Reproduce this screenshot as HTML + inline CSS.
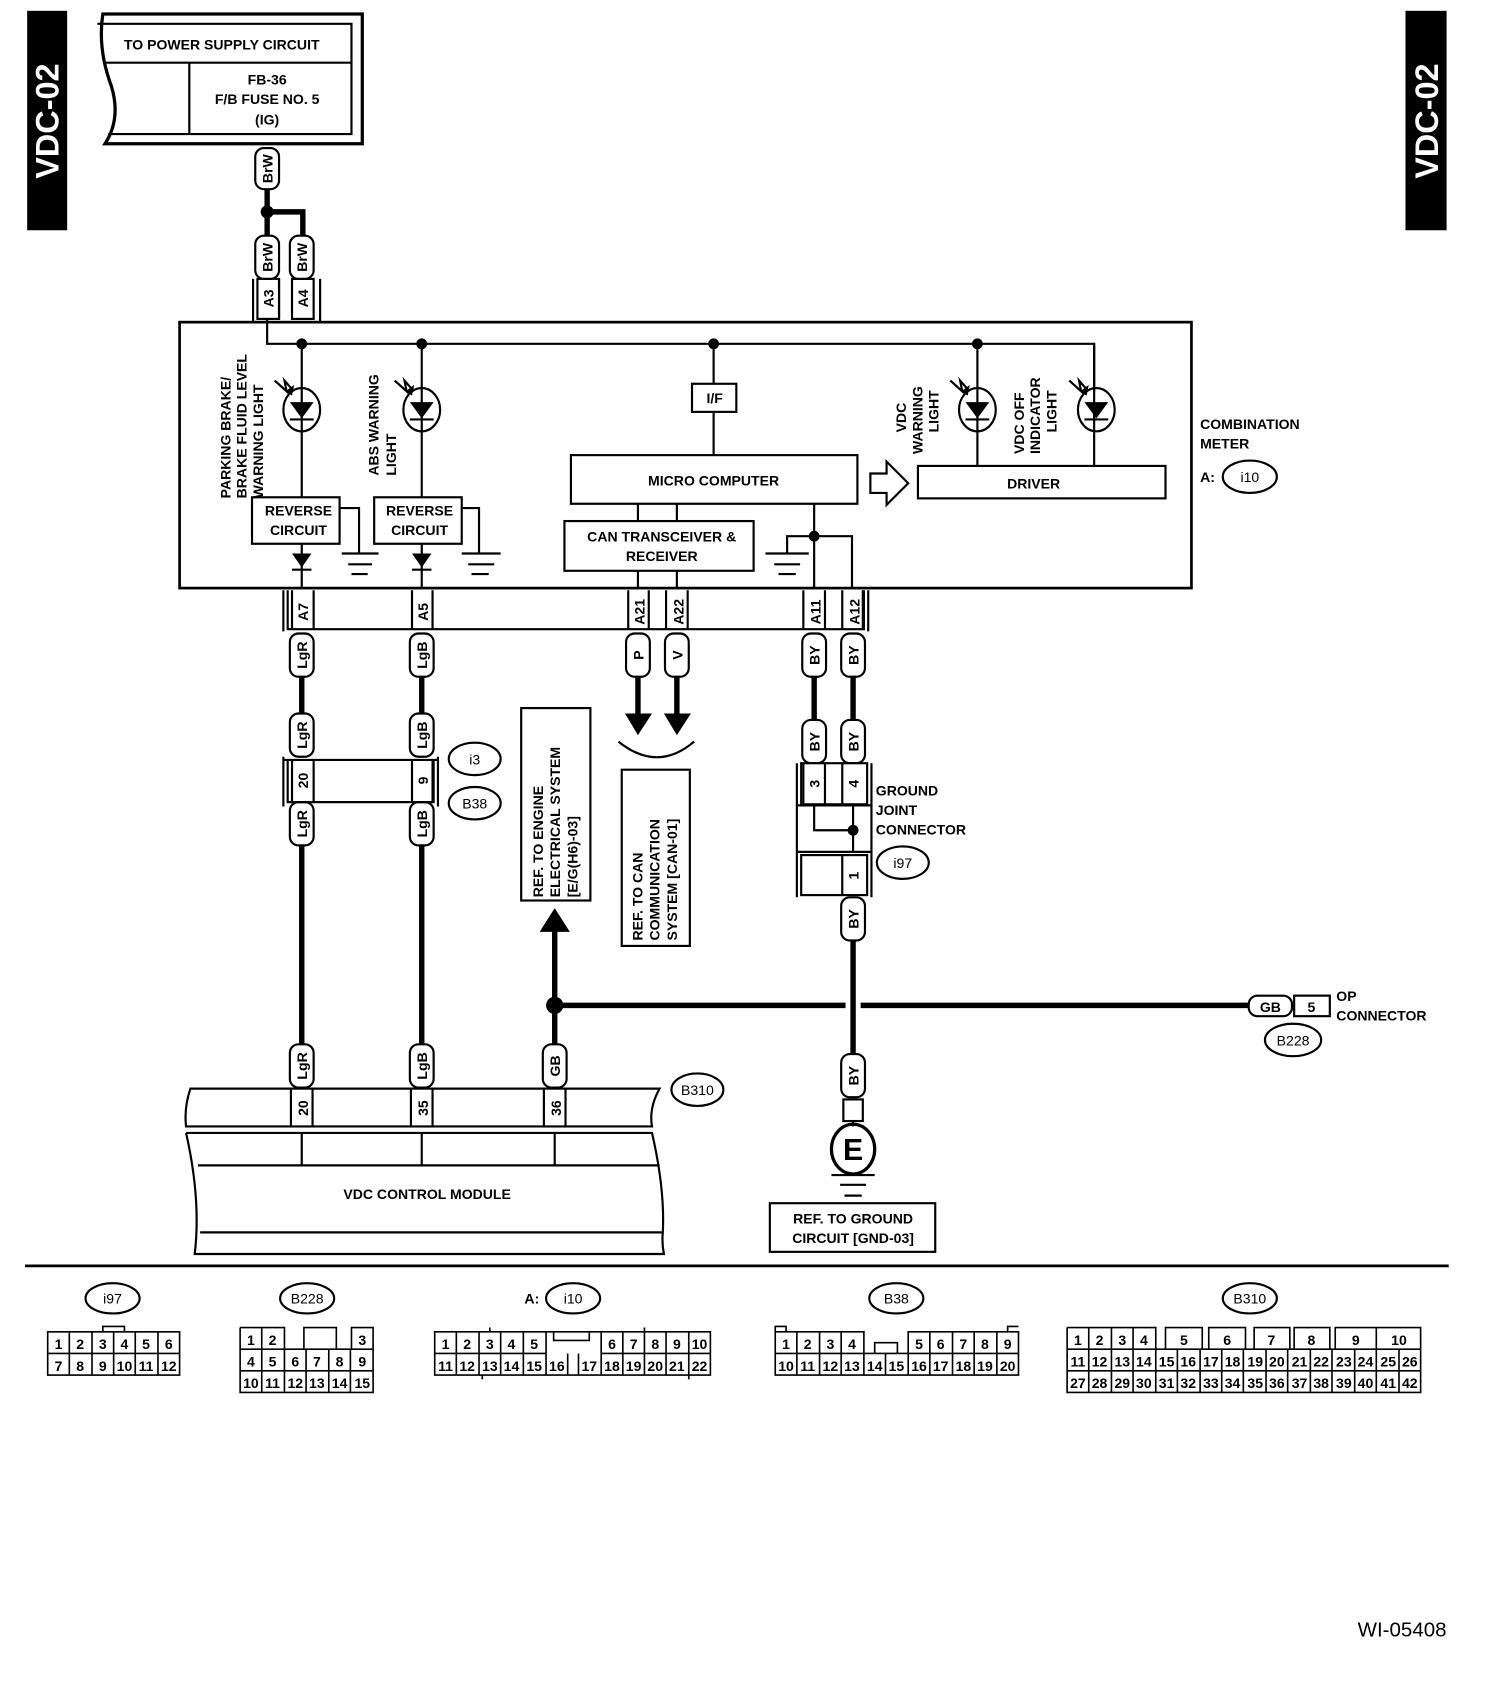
<!DOCTYPE html>
<html><head><meta charset="utf-8"><style>
html,body{margin:0;padding:0;background:#fff;}
svg{display:block;}
text{font-family:"Liberation Sans",Arial,sans-serif;font-weight:bold;fill:#000;}
.s{font-size:14px;}
.m{font-size:13px;}
.n{font-size:13px;font-weight:normal;}
.f{fill:none;stroke:#000;stroke-width:2;}
.w{fill:none;stroke:#000;stroke-width:5;}
.p{fill:#fff;stroke:#000;stroke-width:2;}
</style></head><body>
<svg width="1504" height="1694" viewBox="0 0 1391 1567" xmlns="http://www.w3.org/2000/svg">
<!-- VDC-02 bars -->
<rect x="25" y="10" width="37" height="203" fill="#000"/>
<text x="0" y="0" transform="translate(54,112) rotate(-90)" text-anchor="middle" style="font-size:30px;fill:#fff">VDC-02</text>
<rect x="1300" y="10" width="38" height="203" fill="#000"/>
<text x="0" y="0" transform="translate(1330,112) rotate(-90)" text-anchor="middle" style="font-size:30px;fill:#fff">VDC-02</text>

<!-- power supply box -->
<path class="f" d="M95,13 H335 V133 H97 Q112,110 103,80 Q90,45 95,13 Z" style="stroke-width:3"/>
<path class="f" d="M90,22 H325 V124 H100" />
<line class="f" x1="97" y1="58" x2="325" y2="58"/>
<line class="f" x1="175" y1="58" x2="175" y2="124"/>
<text x="205" y="46" class="m" text-anchor="middle">TO POWER SUPPLY CIRCUIT</text>
<text x="247" y="78" class="m" text-anchor="middle">FB-36</text>
<text x="247" y="96" class="m" text-anchor="middle">F/B FUSE NO. 5</text>
<text x="247" y="115" class="m" text-anchor="middle">(IG)</text>

<!-- BrW top -->
<path class="w" d="M247,175 V198 M247,196 H280 V218 M247,196 V218"/>
<circle cx="247" cy="196" r="6"/>
<rect class="p" x="236" y="137" width="22" height="38" rx="8"/>
<text transform="translate(252,156) rotate(-90)" class="m" text-anchor="middle">BrW</text>
<rect class="p" x="236" y="218" width="22" height="40" rx="8"/>
<text transform="translate(252,238) rotate(-90)" class="m" text-anchor="middle">BrW</text>
<rect class="p" x="268" y="218" width="22" height="40" rx="8"/>
<text transform="translate(284,238) rotate(-90)" class="m" text-anchor="middle">BrW</text>
<!-- A3/A4 connector -->
<path class="f" d="M234,258 V298 M296,258 V298"/>
<rect class="p" x="238" y="258" width="20" height="37"/>
<rect class="p" x="270" y="258" width="20" height="37"/>
<line class="f" x1="258" y1="258" x2="258" y2="295"/>
<text transform="translate(253,276) rotate(-90)" class="m" text-anchor="middle">A3</text>
<text transform="translate(285,276) rotate(-90)" class="m" text-anchor="middle">A4</text>

<!-- Combination meter box -->
<rect x="166" y="298" width="936" height="246" class="f" style="stroke-width:2.5"/>
<path class="f" d="M247,295 V318 H1012 V362"/>
<circle cx="279" cy="318" r="5"/><circle cx="390" cy="318" r="5"/><circle cx="660" cy="318" r="5"/><circle cx="904" cy="318" r="5"/>
<!-- LEDs -->
<g id="led">
<ellipse cx="279" cy="379" rx="17" ry="20" class="f"/>
<path d="M268,372 H290 L279,387 Z"/><line class="f" x1="268" y1="388" x2="290" y2="388"/>
<path class="f" d="M254,352 L265,362 L263,352 L270,360"/><path d="M270,366 L272,356 L264,362 Z"/>
</g>
<use href="#led" x="111"/>
<use href="#led" x="625"/>
<use href="#led" x="735"/>
<path class="f" d="M279,318 V460 M390,318 V460 M904,318 V431 M1012,318 V431"/>
<!-- reverse circuits -->
<rect class="f" x="233" y="460" width="81" height="43"/>
<text x="276" y="477" class="m" text-anchor="middle">REVERSE</text>
<text x="276" y="495" class="m" text-anchor="middle">CIRCUIT</text>
<rect class="f" x="346" y="460" width="81" height="43"/>
<text x="388" y="477" class="m" text-anchor="middle">REVERSE</text>
<text x="388" y="495" class="m" text-anchor="middle">CIRCUIT</text>
<path class="f" d="M314,470 H332 V512 M427,470 H443 V512"/>
<path class="f" d="M316,512 H350 M322,522 H344 M325,531 H340 M427,512 H463 M433,522 H457 M436,531 H452"/>
<path class="f" d="M279,503 V544 M390,503 V544"/>
<path d="M270,512 H288 L279,525 Z M381,512 H399 L390,525 Z"/>
<path class="f" d="M270,527 H288 M381,527 H399"/>
<!-- rotated labels -->
<text transform="translate(213,461) rotate(-90)" class="m">PARKING BRAKE/</text>
<text transform="translate(228,461) rotate(-90)" class="m">BRAKE FLUID LEVEL</text>
<text transform="translate(243,461) rotate(-90)" class="m">WARNING LIGHT</text>
<text transform="translate(350,440) rotate(-90)" class="m">ABS WARNING</text>
<text transform="translate(366,440) rotate(-90)" class="m">LIGHT</text>
<text transform="translate(838,400) rotate(-90)" class="m">VDC</text>
<text transform="translate(853,420) rotate(-90)" class="m">WARNING</text>
<text transform="translate(868,400) rotate(-90)" class="m">LIGHT</text>
<text transform="translate(947,420) rotate(-90)" class="m">VDC OFF</text>
<text transform="translate(962,420) rotate(-90)" class="m">INDICATOR</text>
<text transform="translate(977,400) rotate(-90)" class="m">LIGHT</text>
<!-- I/F micro -->
<line class="f" x1="660" y1="318" x2="660" y2="421"/>
<rect class="p" x="640" y="355" width="41" height="26"/>
<text x="661" y="373" class="m" text-anchor="middle">I/F</text>
<rect class="p" x="528" y="421" width="265" height="45"/>
<text x="660" y="449" class="m" text-anchor="middle">MICRO COMPUTER</text>
<path class="f" d="M590,466 V544 M626,466 V544 M753,466 V544 M728,512 V496 H788 V544"/>
<circle cx="753" cy="496" r="5"/>
<rect class="p" x="522" y="482" width="175" height="46"/>
<text x="612" y="501" class="m" text-anchor="middle">CAN TRANSCEIVER &amp;</text>
<text x="612" y="519" class="m" text-anchor="middle">RECEIVER</text>
<path class="f" d="M708,512 H748 M716,522 H740 M720,531 H736"/>
<path class="f" d="M805,438 H820 V427 L840,447 L820,467 V456 H805 Z"/>
<rect class="f" x="849" y="431" width="229" height="30"/>
<text x="956" y="452" class="m" text-anchor="middle">DRIVER</text>
<text x="1110" y="397" class="m">COMBINATION</text>
<text x="1110" y="415" class="m">METER</text>
<text x="1110" y="446" class="m">A:</text>
<ellipse cx="1156" cy="441" rx="25" ry="15" class="f"/>
<text x="1156" y="446" class="n" text-anchor="middle">i10</text>

<!-- Meter connector strip -->
<path class="f" d="M262,546 V584 M266,546 V582 H799 V546 M803,546 V584"/>
<g class="f">
<line x1="270" y1="546" x2="270" y2="582"/><line x1="290" y1="546" x2="290" y2="582"/>
<line x1="381" y1="546" x2="381" y2="582"/><line x1="400" y1="546" x2="400" y2="582"/>
<line x1="581" y1="546" x2="581" y2="582"/><line x1="600" y1="546" x2="600" y2="582"/>
<line x1="616" y1="546" x2="616" y2="582"/><line x1="636" y1="546" x2="636" y2="582"/>
<line x1="743" y1="546" x2="743" y2="582"/><line x1="763" y1="546" x2="763" y2="582"/>
<line x1="779" y1="546" x2="779" y2="582"/><line x1="798" y1="546" x2="798" y2="582"/>
</g>
<text transform="translate(285,566) rotate(-90)" class="m" text-anchor="middle">A7</text>
<text transform="translate(396,566) rotate(-90)" class="m" text-anchor="middle">A5</text>
<text transform="translate(596,566) rotate(-90)" class="m" text-anchor="middle">A21</text>
<text transform="translate(632,566) rotate(-90)" class="m" text-anchor="middle">A22</text>
<text transform="translate(759,566) rotate(-90)" class="m" text-anchor="middle">A11</text>
<text transform="translate(795,566) rotate(-90)" class="m" text-anchor="middle">A12</text>

<!-- wires -->
<path class="w" d="M279,626 V660 M390,626 V660 M279,782 V966 M390,782 V966 M590,626 V662 M626,626 V662 M753,626 V666 M789,626 V666 M789,870 V975 M513,850 V966"/>
<path class="w" d="M513,930 H782 M796,930 H1155"/>
<circle cx="513" cy="930" r="8"/>
<path d="M578,660 H603 L590,680 Z M614,660 H639 L626,680 Z"/>
<path class="f" d="M572,686 Q608,715 642,686"/>
<path d="M499,862 H527 L513,840 Z"/>

<!-- wire labels -->
<g>
<rect class="p" x="268" y="586" width="22" height="40" rx="8"/><text transform="translate(284,606) rotate(-90)" class="m" text-anchor="middle">LgR</text>
<rect class="p" x="379" y="586" width="22" height="40" rx="8"/><text transform="translate(395,606) rotate(-90)" class="m" text-anchor="middle">LgB</text>
<rect class="p" x="579" y="586" width="22" height="40" rx="8"/><text transform="translate(595,606) rotate(-90)" class="m" text-anchor="middle">P</text>
<rect class="p" x="615" y="586" width="22" height="40" rx="8"/><text transform="translate(631,606) rotate(-90)" class="m" text-anchor="middle">V</text>
<rect class="p" x="742" y="586" width="22" height="40" rx="8"/><text transform="translate(758,606) rotate(-90)" class="m" text-anchor="middle">BY</text>
<rect class="p" x="778" y="586" width="22" height="40" rx="8"/><text transform="translate(794,606) rotate(-90)" class="m" text-anchor="middle">BY</text>
<rect class="p" x="268" y="660" width="22" height="40" rx="8"/><text transform="translate(284,680) rotate(-90)" class="m" text-anchor="middle">LgR</text>
<rect class="p" x="379" y="660" width="22" height="40" rx="8"/><text transform="translate(395,680) rotate(-90)" class="m" text-anchor="middle">LgB</text>
<rect class="p" x="268" y="742" width="22" height="40" rx="8"/><text transform="translate(284,762) rotate(-90)" class="m" text-anchor="middle">LgR</text>
<rect class="p" x="379" y="742" width="22" height="40" rx="8"/><text transform="translate(395,762) rotate(-90)" class="m" text-anchor="middle">LgB</text>
<rect class="p" x="742" y="666" width="22" height="40" rx="8"/><text transform="translate(758,686) rotate(-90)" class="m" text-anchor="middle">BY</text>
<rect class="p" x="778" y="666" width="22" height="40" rx="8"/><text transform="translate(794,686) rotate(-90)" class="m" text-anchor="middle">BY</text>
<rect class="p" x="778" y="830" width="22" height="40" rx="8"/><text transform="translate(794,850) rotate(-90)" class="m" text-anchor="middle">BY</text>
<rect class="p" x="778" y="975" width="22" height="40" rx="8"/><text transform="translate(794,995) rotate(-90)" class="m" text-anchor="middle">BY</text>
<rect class="p" x="268" y="966" width="22" height="40" rx="8"/><text transform="translate(284,986) rotate(-90)" class="m" text-anchor="middle">LgR</text>
<rect class="p" x="379" y="966" width="22" height="40" rx="8"/><text transform="translate(395,986) rotate(-90)" class="m" text-anchor="middle">LgB</text>
<rect class="p" x="502" y="966" width="22" height="40" rx="8"/><text transform="translate(518,986) rotate(-90)" class="m" text-anchor="middle">GB</text>
</g>

<!-- i3/B38 connector -->
<path class="f" d="M262,700 V746 M405,700 V746 M262,703 H405 M266,703 V742 H401 V703"/>
<path class="f" d="M270,703 V742 M290,703 V742 M381,703 V742 M400,703 V742"/>
<text transform="translate(285,722) rotate(-90)" class="m" text-anchor="middle">20</text>
<text transform="translate(396,722) rotate(-90)" class="m" text-anchor="middle">9</text>
<ellipse cx="439" cy="702" rx="24" ry="15" class="f"/><text x="439" y="707" class="n" text-anchor="middle">i3</text>
<ellipse cx="439" cy="743" rx="24" ry="15" class="f"/><text x="439" y="748" class="n" text-anchor="middle">B38</text>

<!-- ref boxes -->
<rect class="p" x="482" y="655" width="64" height="178"/>
<text transform="translate(502,830) rotate(-90)" class="m">REF. TO ENGINE</text>
<text transform="translate(518,830) rotate(-90)" class="m">ELECTRICAL SYSTEM</text>
<text transform="translate(534,830) rotate(-90)" class="m">[E/G(H6)-03]</text>
<rect class="p" x="575" y="712" width="63" height="163"/>
<text transform="translate(594,870) rotate(-90)" class="m">REF. TO CAN</text>
<text transform="translate(610,870) rotate(-90)" class="m">COMMUNICATION</text>
<text transform="translate(626,870) rotate(-90)" class="m">SYSTEM [CAN-01]</text>

<!-- ground joint -->
<path class="f" d="M737,706 V830 M806,706 V830 M737,745 H806 M737,788 H806 M753,745 V768 H789 M789,745 V788"/>
<rect class="p" x="741" y="706" width="61" height="38"/>
<path class="f" d="M743,706 V744 M763,706 V744 M779,706 V744"/>
<text transform="translate(758,725) rotate(-90)" class="m" text-anchor="middle">3</text>
<text transform="translate(794,725) rotate(-90)" class="m" text-anchor="middle">4</text>
<circle cx="789" cy="768" r="5"/>
<rect class="p" x="741" y="791" width="61" height="37"/>
<line class="f" x1="779" y1="791" x2="779" y2="828"/>
<text transform="translate(794,810) rotate(-90)" class="m" text-anchor="middle">1</text>
<text x="810" y="736" class="m">GROUND</text>
<text x="810" y="754" class="m">JOINT</text>
<text x="810" y="772" class="m">CONNECTOR</text>
<ellipse cx="835" cy="798" rx="24" ry="15" class="f"/><text x="835" y="803" class="n" text-anchor="middle">i97</text>

<!-- OP connector -->
<rect class="p" x="1155" y="921" width="40" height="19" rx="8"/><text x="1175" y="936" class="m" text-anchor="middle">GB</text>
<rect class="p" x="1197" y="921" width="33" height="19"/><text x="1213" y="936" class="m" text-anchor="middle">5</text>
<text x="1236" y="926" class="m">OP</text>
<text x="1236" y="944" class="m">CONNECTOR</text>
<ellipse cx="1196" cy="962" rx="26" ry="15" class="f"/><text x="1196" y="967" class="n" text-anchor="middle">B228</text>

<!-- ground E -->
<rect class="p" x="780" y="1017" width="18" height="20"/>
<path class="f" d="M789,1037 V1042"/>
<ellipse cx="789" cy="1063" rx="20" ry="23" class="f" style="stroke-width:3"/>
<text x="789" y="1073" text-anchor="middle" style="font-size:28px">E</text>
<path class="f" d="M769,1087 H809 M777,1096 H801 M781,1106 H797"/>
<rect class="p" x="712" y="1113" width="153" height="45"/>
<text x="789" y="1132" class="m" text-anchor="middle">REF. TO GROUND</text>
<text x="789" y="1150" class="m" text-anchor="middle">CIRCUIT [GND-03]</text>

<!-- VDC control module -->
<path class="f" d="M176,1007 H610 Q600,1025 603,1042 H172 Q170,1025 176,1007 Z"/>
<path class="f" d="M172,1048 H603 Q615,1100 613,1140 Q612,1150 614,1160 H180 Q186,1110 172,1048"/>
<path class="f" d="M183,1078 H610 M185,1140 H613"/>
<path class="f" d="M279,1048 V1078 M390,1048 V1078 M513,1048 V1078"/>
<rect class="p" x="269" y="1007" width="20" height="35"/><rect class="p" x="380" y="1007" width="20" height="35"/><rect class="p" x="503" y="1007" width="20" height="35"/>
<text transform="translate(285,1025) rotate(-90)" class="m" text-anchor="middle">20</text>
<text transform="translate(396,1025) rotate(-90)" class="m" text-anchor="middle">35</text>
<text transform="translate(519,1025) rotate(-90)" class="m" text-anchor="middle">36</text>
<text x="395" y="1109" class="m" text-anchor="middle">VDC CONTROL MODULE</text>
<ellipse cx="645" cy="1008" rx="24" ry="15" class="f"/><text x="645" y="1013" class="n" text-anchor="middle">B310</text>

<!-- separator -->
<line x1="23" y1="1171" x2="1340" y2="1171" stroke="#000" stroke-width="2.5"/>

<!-- bottom connectors -->
<g class="f">
<ellipse cx="104" cy="1201" rx="25" ry="14"/>
<ellipse cx="284" cy="1201" rx="25" ry="14"/>
<ellipse cx="530" cy="1201" rx="25" ry="14"/>
<ellipse cx="829" cy="1201" rx="25" ry="14"/>
<ellipse cx="1156" cy="1201" rx="25" ry="14"/>
</g>
<text x="104" y="1206" class="n" text-anchor="middle">i97</text>
<text x="284" y="1206" class="n" text-anchor="middle">B228</text>
<text x="485" y="1206" class="m">A:</text>
<text x="530" y="1206" class="n" text-anchor="middle">i10</text>
<text x="829" y="1206" class="n" text-anchor="middle">B38</text>
<text x="1156" y="1206" class="n" text-anchor="middle">B310</text>

<g class="n" style="font-size:13px" text-anchor="middle">
<!-- i97 -->
<rect class="f" x="44" y="1232" width="122" height="40" style="stroke-width:1.5"/>
<path class="f" style="stroke-width:1.5" d="M44,1252 H166 M64,1232 V1272 M85,1232 V1272 M105,1232 V1272 M125,1232 V1272 M146,1232 V1272 M95,1232 V1227 H115 V1232"/>
<text x="54" y="1248">1</text><text x="74" y="1248">2</text><text x="95" y="1248">3</text><text x="115" y="1248">4</text><text x="135" y="1248">5</text><text x="156" y="1248">6</text>
<text x="54" y="1268">7</text><text x="74" y="1268">8</text><text x="95" y="1268">9</text><text x="115" y="1268">10</text><text x="135" y="1268">11</text><text x="156" y="1268">12</text>
<!-- B228 -->
<path class="f" style="stroke-width:1.5" d="M222,1228 H263 V1248 M222,1228 V1288 H345 V1228 H325 V1248 M222,1248 H345 M222,1268 H345 M242,1228 V1288 M263,1248 V1288 M283,1248 V1288 M304,1248 V1288 M324,1248 V1288 M281,1248 V1228 H311 V1248"/>
<text x="232" y="1244">1</text><text x="252" y="1244">2</text><text x="335" y="1244">3</text>
<text x="232" y="1264">4</text><text x="252" y="1264">5</text><text x="273" y="1264">6</text><text x="293" y="1264">7</text><text x="314" y="1264">8</text><text x="335" y="1264">9</text>
<text x="232" y="1284">10</text><text x="252" y="1284">11</text><text x="273" y="1284">12</text><text x="293" y="1284">13</text><text x="314" y="1284">14</text><text x="335" y="1284">15</text>
<!-- i10 -->
<path class="f" style="stroke-width:1.5" d="M402,1232 H657 V1272 H402 Z M402,1252 H505 M556,1252 H657 M422,1232 V1272 M443,1232 V1272 M463,1232 V1272 M484,1232 V1272 M505,1232 V1272 M525,1252 V1272 M535,1252 V1272 M556,1232 V1272 M576,1232 V1272 M596,1232 V1272 M616,1232 V1272 M637,1232 V1272 M512,1232 V1240 H545 V1232 M453,1232 V1228 M596,1232 V1228 M446,1272 V1276 M637,1272 V1276"/>
<text x="412" y="1248">1</text><text x="432" y="1248">2</text><text x="453" y="1248">3</text><text x="473" y="1248">4</text><text x="494" y="1248">5</text><text x="566" y="1248">6</text><text x="586" y="1248">7</text><text x="606" y="1248">8</text><text x="626" y="1248">9</text><text x="647" y="1248">10</text>
<text x="412" y="1268">11</text><text x="432" y="1268">12</text><text x="453" y="1268">13</text><text x="473" y="1268">14</text><text x="494" y="1268">15</text><text x="515" y="1268">16</text><text x="545" y="1268">17</text><text x="566" y="1268">18</text><text x="586" y="1268">19</text><text x="606" y="1268">20</text><text x="626" y="1268">21</text><text x="647" y="1268">22</text>
<!-- B38 -->
<path class="f" style="stroke-width:1.5" d="M717,1232 H799 V1252 M840,1252 V1232 H942 V1272 H717 V1232 M717,1252 H942 M737,1232 V1272 M758,1232 V1272 M778,1232 V1272 M799,1252 V1272 M819,1252 V1272 M840,1252 V1272 M860,1232 V1272 M881,1232 V1272 M901,1232 V1272 M922,1232 V1272 M809,1252 V1242 H830 V1252 M717,1232 V1227 H727 V1232 M932,1232 V1227 H942"/>
<text x="727" y="1248">1</text><text x="747" y="1248">2</text><text x="768" y="1248">3</text><text x="788" y="1248">4</text><text x="850" y="1248">5</text><text x="870" y="1248">6</text><text x="891" y="1248">7</text><text x="911" y="1248">8</text><text x="932" y="1248">9</text>
<text x="727" y="1268">10</text><text x="747" y="1268">11</text><text x="768" y="1268">12</text><text x="788" y="1268">13</text><text x="809" y="1268">14</text><text x="829" y="1268">15</text><text x="850" y="1268">16</text><text x="870" y="1268">17</text><text x="891" y="1268">18</text><text x="911" y="1268">19</text><text x="932" y="1268">20</text>
<!-- B310 -->
<path class="f" style="stroke-width:1.5" d="M987,1248 V1288 H1314 V1248 Z M987,1268 H1314 M987,1228 H1069 V1248 M987,1228 V1248 M1007,1228 V1248 M1028,1228 V1248 M1048,1228 V1248 M1078,1248 V1228 H1112 V1248 M1118,1248 V1228 H1152 V1248 M1160,1248 V1228 H1193 V1248 M1197,1248 V1228 H1230 V1248 M1235,1248 V1228 H1314 V1248 M1273,1228 V1248"/>
<path class="f" style="stroke-width:1.5" d="M1007,1248 V1288 M1028,1248 V1288 M1048,1248 V1288 M1069,1248 V1288 M1089,1248 V1288 M1110,1248 V1288 M1130,1248 V1288 M1150,1248 V1288 M1171,1248 V1288 M1191,1248 V1288 M1212,1248 V1288 M1232,1248 V1288 M1253,1248 V1288 M1273,1248 V1288 M1294,1248 V1288"/>
<text x="997" y="1244">1</text><text x="1017" y="1244">2</text><text x="1038" y="1244">3</text><text x="1058" y="1244">4</text><text x="1095" y="1244">5</text><text x="1135" y="1244">6</text><text x="1176" y="1244">7</text><text x="1213" y="1244">8</text><text x="1254" y="1244">9</text><text x="1294" y="1244">10</text>
<text x="997" y="1264">11</text><text x="1017" y="1264">12</text><text x="1038" y="1264">13</text><text x="1058" y="1264">14</text><text x="1079" y="1264">15</text><text x="1099" y="1264">16</text><text x="1120" y="1264">17</text><text x="1140" y="1264">18</text><text x="1161" y="1264">19</text><text x="1181" y="1264">20</text><text x="1202" y="1264">21</text><text x="1222" y="1264">22</text><text x="1243" y="1264">23</text><text x="1263" y="1264">24</text><text x="1284" y="1264">25</text><text x="1304" y="1264">26</text>
<text x="997" y="1284">27</text><text x="1017" y="1284">28</text><text x="1038" y="1284">29</text><text x="1058" y="1284">30</text><text x="1079" y="1284">31</text><text x="1099" y="1284">32</text><text x="1120" y="1284">33</text><text x="1140" y="1284">34</text><text x="1161" y="1284">35</text><text x="1181" y="1284">36</text><text x="1202" y="1284">37</text><text x="1222" y="1284">38</text><text x="1243" y="1284">39</text><text x="1263" y="1284">40</text><text x="1284" y="1284">41</text><text x="1304" y="1284">42</text>
</g>

<text x="1338" y="1514" text-anchor="end" style="font-size:19px;font-weight:normal">WI-05408</text>
</svg>
</body></html>
